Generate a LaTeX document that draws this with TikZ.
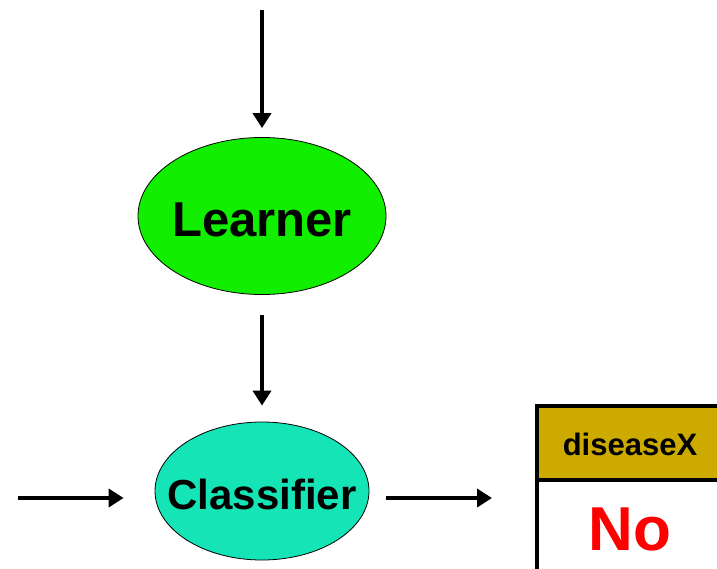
\documentclass[tikz,border=0pt]{standalone}
\usepackage{fontspec}
\setmainfont{Liberation Sans}
\usepackage{xcolor}
\usetikzlibrary{arrows.meta,positioning,shapes.geometric}
\definecolor{learnergreen}{RGB}{18,238,0}
\definecolor{classifierteal}{RGB}{20,228,182}
\definecolor{headergold}{RGB}{204,170,0}
\definecolor{answerred}{RGB}{255,0,0}
\tikzset{
  learnerbox/.style={ellipse,draw=black,thick,fill=learnergreen,
    minimum width=248pt,minimum height=157pt,inner sep=0pt,
    label={[font=\fontsize{49}{49}\selectfont\bfseries,yshift=-4pt]center:#1}},
  classifierbox/.style={ellipse,draw=black,thick,fill=classifierteal,
    minimum width=214pt,minimum height=138pt,inner sep=0pt,
    label={[font=\fontsize{42}{42}\selectfont\bfseries,yshift=-3pt]center:#1}},
  flow/.style={-{Triangle[length=15pt,width=18pt]},line width=4.5pt,draw=black},
  tableline/.style={draw=black,line width=4pt}
}

\begin{document}
\begin{tikzpicture}[x=1pt,y=-1pt]
  \useasboundingbox (0,0) rectangle (717,569);
  \node[learnerbox=Learner] (learner) at (262,216) {};
  \node[classifierbox=Classifier] (classifier) at (262,491) {};
  \coordinate (datain) at (262,10);
  \coordinate (queryin) at (18,498);
  \coordinate (answerout) at (492,498);
  % result table
  \fill[headergold] (537,406) rectangle (730,480);
  \draw[tableline] (730,406) -- (537,406) -- (537,572);
  \draw[tableline] (537,480) -- (730,480);
  \node[font=\fontsize{31}{31}\selectfont\bfseries] (header) at (630,444) {diseaseX};
  \node[font=\fontsize{62}{62}\selectfont\bfseries,text=answerred] (answer) at (630,529) {No};
  % arrows
  \draw[flow] (datain) -- ([yshift=9pt]learner.north);
  \draw[flow] ([yshift=-20pt]learner.south) -- ([yshift=16pt]classifier.north);
  \draw[flow] (queryin) -- ([xshift=-31pt]classifier.west |- queryin);
  \draw[flow] ([xshift=17pt]classifier.east |- answerout) -- (answerout);
\end{tikzpicture}
\end{document}
